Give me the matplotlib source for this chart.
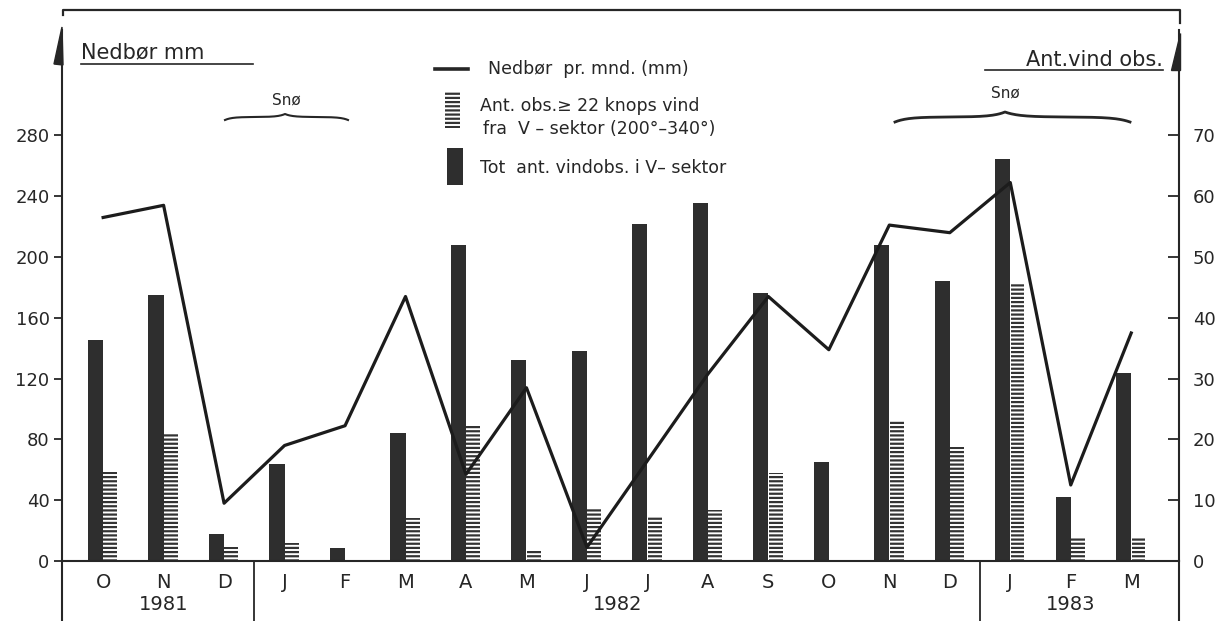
import matplotlib
matplotlib.use('Agg')
import matplotlib.pyplot as plt
import numpy as np
from matplotlib.lines import Line2D
from matplotlib.patches import Polygon, Rectangle

# data
months = ['O', 'N', 'D', 'J', 'F', 'M', 'A', 'M', 'J',
          'J', 'A', 'S', 'O', 'N', 'D', 'J', 'F', 'M']
years = ['1981', '1982', '1983']
year_centers = [1.0, 8.5, 16.0]
year_breaks = [2.5, 14.5]

precip_mm = [226, 234, 38, 76, 89, 174, 57, 114, 9,
             66, 123, 174, 139, 221, 216, 249, 50, 150]
tot_wind_obs = [36.3, 43.7, 4.4, 15.9, 2.1, 21.0, 52.0, 33.0, 34.5,
                55.5, 58.8, 44.0, 16.3, 52.0, 46.1, 66.2, 10.5, 30.9]
strong_wind_obs = [14.6, 21.0, 2.3, 3.0, 0, 7.1, 22.2, 1.7, 8.7,
                   7.3, 8.4, 14.4, 0, 23.2, 18.7, 45.8, 3.9, 3.9]

left_ticks = [0, 40, 80, 120, 160, 200, 240, 280]
right_ticks = [0, 10, 20, 30, 40, 50, 60, 70]

INK = '#262626'
W, H = 1231, 621

plt.rcParams['hatch.linewidth'] = 1.6
plt.rcParams['font.family'] = ['DejaVu Sans']

fig = plt.figure(figsize=(W / 100, H / 100), dpi=100)
fig.patch.set_facecolor('white')


def fx(x):
    return x / W


def fy(y):
    return 1 - y / H


ax = fig.add_axes([fx(62), 60 / H, 1117 / W, 531 / H])
ax2 = ax.twinx()
ax.set_zorder(2)
ax2.set_zorder(1)
ax.patch.set_visible(False)

x = np.arange(len(months))
ymax = 531 / 1.52
ax.set_xlim(-0.68, 17.79)
ax.set_ylim(0, ymax)
ax2.set_ylim(0, ymax / 4)

# bars (right axis)
ax2.bar(x - 0.125, tot_wind_obs, width=0.25, color='#2e2e2e', linewidth=0)
ax2.bar(x + 0.12, strong_wind_obs, width=0.23, facecolor='none',
        edgecolor='#333333', hatch='----', linewidth=0)

# precipitation line (left axis)
ax.plot(x, precip_mm, color='#1c1c1c', lw=2.3)

# axes styling
for s in ['top', 'right']:
    ax.spines[s].set_visible(False)
for s in ['top', 'left', 'bottom']:
    ax2.spines[s].set_visible(False)
for sp in [ax.spines['left'], ax.spines['bottom'], ax2.spines['right']]:
    sp.set_color(INK)
    sp.set_linewidth(1.5)

ax.set_yticks(left_ticks)
ax.tick_params(axis='y', direction='out', length=6, width=1.3, pad=3,
               labelsize=13, colors=INK)
ax2.set_yticks(right_ticks)
ax2.tick_params(axis='y', direction='in', length=8, width=1.3, pad=10,
                labelsize=13, colors=INK)
ax.set_xticks(x)
ax.set_xticklabels(months)
ax.tick_params(axis='x', length=0, pad=9, labelsize=14, colors=INK)

# lower frame: axis extensions, year separators and year labels
bot = -60 / 531
for xa in [0, 1]:
    ax.add_line(Line2D([xa, xa], [bot, 0], transform=ax.transAxes,
                       color=INK, lw=1.5, clip_on=False))
trans = ax.get_xaxis_transform()
for xb in year_breaks:
    ax.add_line(Line2D([xb, xb], [bot, 0], transform=trans,
                       color=INK, lw=1.3, clip_on=False))
for yr, xc in zip(years, year_centers):
    ax.text(xc, -44 / 531, yr, transform=trans, ha='center', va='center',
            fontsize=14, color=INK)

# top frame line and arrow heads
fig.add_artist(Line2D([fx(63), fx(63), fx(1180), fx(1180)],
                      [fy(15), fy(10), fy(10), fy(23)],
                      color=INK, lw=1.6))
fig.add_artist(Polygon([(fx(62), fy(27)), (fx(63), fy(65)), (fx(54), fy(64))],
                       closed=True, color=INK))
fig.add_artist(Polygon([(fx(1180), fy(33)), (fx(1180), fy(70)), (fx(1171), fy(70))],
                       closed=True, color=INK))

# axis titles with underline
fig.text(fx(81), fy(52), 'Nedbør mm', ha='left', va='center',
         fontsize=15, color=INK)
fig.add_artist(Line2D([fx(81), fx(253)], [fy(64), fy(64)], color=INK, lw=1.2))
fig.text(fx(1163), fy(60), 'Ant.vind obs.', ha='right', va='center',
         fontsize=15, color=INK)
fig.add_artist(Line2D([fx(985), fx(1163)], [fy(70), fy(70)], color=INK, lw=1.2))


# snow braces
def brace(x0, xm, x1, y, h, lw):
    u = np.linspace(0, 1, 80)
    lx = x0 + (xm - x0) * u
    ly = y + h * np.exp(-u * 9) - h * np.exp(-(1 - u) * 9)
    rx = xm + (x1 - xm) * u
    ry = y - h * np.exp(-u * 9) + h * np.exp(-(1 - u) * 9)
    xs = np.concatenate([lx, rx])
    ys = np.concatenate([ly, ry])
    fig.add_artist(Line2D(fx(xs), fy(ys), color=INK, lw=lw))


brace(225, 285, 348, 117, 3, 1.5)
fig.text(fx(286), fy(100), 'Snø', ha='center', va='center', fontsize=11, color=INK)
brace(895, 1005, 1130, 117, 5, 2.0)
fig.text(fx(1005), fy(93), 'Snø', ha='center', va='center', fontsize=11, color=INK)

# legend
fig.add_artist(Line2D([fx(435), fx(468)], [fy(69), fy(69)], color=INK, lw=2.6))
fig.text(fx(488), fy(69), 'Nedbør  pr. mnd. (mm)', ha='left', va='center',
         fontsize=12.5, color=INK)
fig.add_artist(Rectangle((fx(445), fy(128)), fx(15), 36 / H, facecolor='none',
                         edgecolor='#333333', hatch='----', linewidth=0,
                         transform=fig.transFigure))
fig.text(fx(480), fy(106), 'Ant. obs.≥ 22 knops vind', ha='left', va='center',
         fontsize=12.5, color=INK)
fig.text(fx(483), fy(129), 'fra  V – sektor (200°–340°)', ha='left', va='center',
         fontsize=12.5, color=INK)
fig.add_artist(Rectangle((fx(447), fy(185)), fx(16), 37 / H, facecolor='#2e2e2e',
                         linewidth=0, transform=fig.transFigure))
fig.text(fx(480), fy(168), 'Tot  ant. vindobs. i V– sektor', ha='left', va='center',
         fontsize=12.5, color=INK)

fig.savefig('out.png', dpi=100, facecolor='white')
